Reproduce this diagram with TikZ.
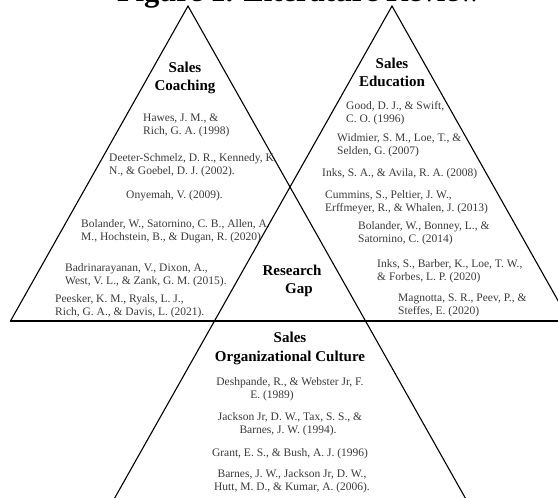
\documentclass[tikz,border=0pt]{standalone}
\usepackage{fontspec}
\setmainfont{Liberation Serif}
\definecolor{refgray}{HTML}{3A3A3A}
\begin{document}
\begin{tikzpicture}[x=1pt,y=-1pt,
  ref/.style={anchor=base west, inner sep=0pt, font=\fontsize{11.5}{14}\selectfont, text=refgray},
  refc/.style={anchor=base, inner sep=0pt, font=\fontsize{11.5}{14}\selectfont, text=refgray},
  head/.style={anchor=base, inner sep=0pt, font=\fontsize{15}{19}\selectfont\bfseries},
  side/.style={line width=1.1pt, black, line cap=round}]
\useasboundingbox (0,0) rectangle (558,498);
\clip (0,0) rectangle (558,498);
% title (cropped at top)
\node[anchor=base, inner sep=0pt, font=\fontsize{30.5}{36}\selectfont\bfseries] (title) at (299,1.5) {Figure 1. Literature Review};
% geometry
\coordinate (LA) at (188,6);
\coordinate (RA) at (392,6);
\coordinate (LB) at (10.5,321);
\coordinate (RB) at (569.5,321);
\coordinate (X) at (290,187);
\coordinate (BL) at (114.7,498);
\coordinate (BR) at (465.3,498);
\draw[side] (LB) -- (LA) -- (X) -- (BR);
\draw[side] (RB) -- (RA) -- (X) -- (BL);
\draw[side] (LB) -- (RB);
% Sales Coaching
\node[head] (h1a) at (185,72) {Sales};
\node[head] (h1b) at (185,90) {Coaching};
\node[ref] (c1a) at (143,121) {Hawes, J. M., \&};
\node[ref] (c1b) at (143,134.5) {Rich, G. A. (1998)};
\node[ref] (c2a) at (109,161) {Deeter-Schmelz, D. R., Kennedy, K.};
\node[ref] (c2b) at (109,174.5) {N., \& Goebel, D. J. (2002).};
\node[ref] (c3a) at (126,198) {Onyemah, V. (2009).};
\node[ref] (c4a) at (81,227) {Bolander, W., Satornino, C. B., Allen, A.};
\node[ref] (c4b) at (81,240.5) {M., Hochstein, B., \& Dugan, R. (2020)};
\node[ref] (c5a) at (65,271) {Badrinarayanan, V., Dixon, A.,};
\node[ref] (c5b) at (65,284.5) {West, V. L., \& Zank, G. M. (2015).};
\node[ref] (c6a) at (55,302) {Peesker, K. M., Ryals, L. J.,};
\node[ref] (c6b) at (55,315.5) {Rich, G. A., \& Davis, L. (2021).};
% Sales Education
\node[head] (h2a) at (392,68) {Sales};
\node[head] (h2b) at (392,86) {Education};
\node[ref] (e1a) at (346,109) {Good, D. J., \& Swift,};
\node[ref] (e1b) at (346,122.5) {C. O. (1996)};
\node[ref] (e2a) at (337,141) {Widmier, S. M., Loe, T., \&};
\node[ref] (e2b) at (337,154.5) {Selden, G. (2007)};
\node[ref] (e3a) at (322,176) {Inks, S. A., \& Avila, R. A. (2008)};
\node[ref] (e4a) at (325,198) {Cummins, S., Peltier, J. W.,};
\node[ref] (e4b) at (325,211.5) {Erffmeyer, R., \& Whalen, J. (2013)};
\node[ref] (e5a) at (358,229) {Bolander, W., Bonney, L., \&};
\node[ref] (e5b) at (358,242.5) {Satornino, C. (2014)};
\node[ref] (e6a) at (377,267) {Inks, S., Barber, K., Loe, T. W.,};
\node[ref] (e6b) at (377,280.5) {\& Forbes, L. P. (2020)};
\node[ref] (e7a) at (398,301) {Magnotta, S. R., Peev, P., \&};
\node[ref] (e7b) at (398,314.5) {Steffes, E. (2020)};
% Research Gap
\node[head] (g1) at (292,275) {Research};
\node[head] (g2) at (299,293) {Gap};
% Sales Organizational Culture
\node[head] (h3a) at (290,342) {Sales};
\node[head] (h3b) at (290,361) {Organizational Culture};
\node[refc] (o1a) at (290,385) {Deshpande, R., \& Webster Jr, F.};
\node[refc] (o1b) at (272,398.5) {E. (1989)};
\node[refc] (o2a) at (290,420) {Jackson Jr, D. W., Tax, S. S., \&};
\node[refc] (o2b) at (288,433.5) {Barnes, J. W. (1994).};
\node[refc] (o3a) at (290,456) {Grant, E. S., \& Bush, A. J. (1996)};
\node[refc] (o4a) at (292,477) {Barnes, J. W., Jackson Jr, D. W.,};
\node[refc] (o4b) at (292,490.5) {Hutt, M. D., \& Kumar, A. (2006).};
\end{tikzpicture}
\end{document}
